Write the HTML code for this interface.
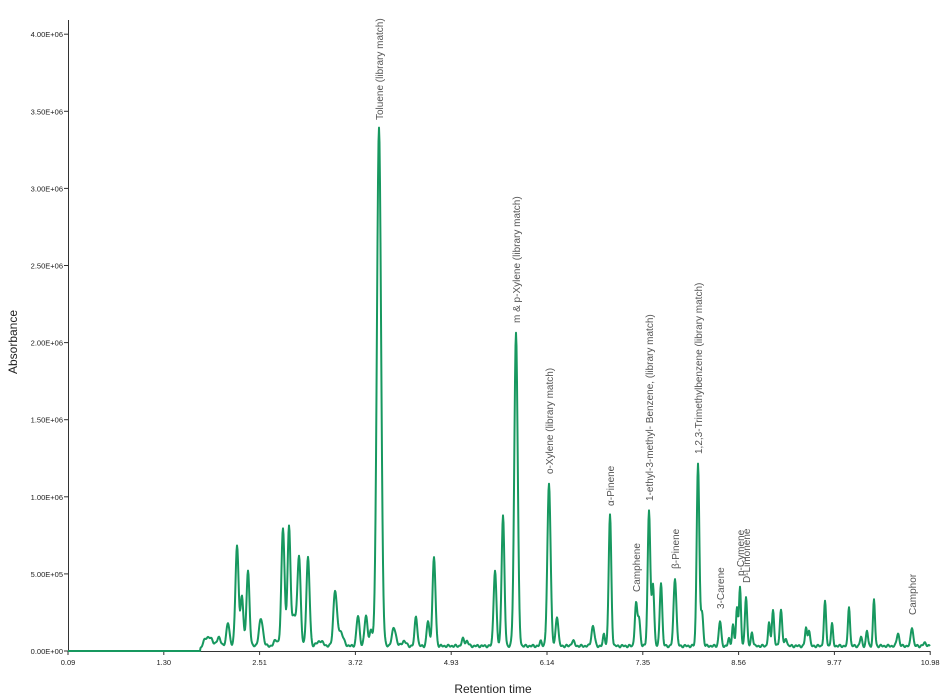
<!DOCTYPE html><html><head><meta charset="utf-8"><style>body{margin:0;background:#fff}svg{display:block;font-family:"Liberation Sans",sans-serif}</style></head><body>
<svg id="s" width="950" height="700" xmlns="http://www.w3.org/2000/svg">
<g stroke="#333" stroke-width="1" fill="none"><path d="M68.5 20V651.5H930"/></g>
<g id="ax" font-size="7.5" fill="#222"></g>
<text x="493" y="693" font-size="12" text-anchor="middle" fill="#222">Retention time</text>
<text transform="translate(17,342) rotate(-90)" font-size="12" text-anchor="middle" fill="#222">Absorbance</text>
<path id="c" fill="none" stroke="#17985f" stroke-width="2" stroke-linejoin="round"/>
<g id="lb" font-size="10" fill="#555"></g>
</svg>
<script>
var ax=document.getElementById('ax'),h='';
var yl=['0.00E+00','5.00E+05','1.00E+06','1.50E+06','2.00E+06','2.50E+06','3.00E+06','3.50E+06','4.00E+06'];
for(var i=0;i<9;i++){var y=651-i*77.1;h+='<line x1="64" x2="68" y1="'+y+'" y2="'+y+'" stroke="#333"/><text x="63" y="'+(y+3)+'" text-anchor="end">'+yl[i]+'</text>';}
var xl=['0.09','1.30','2.51','3.72','4.93','6.14','7.35','8.56','9.77','10.98'];
for(var i=0;i<10;i++){var x=68+i*95.8;h+='<line x1="'+x+'" x2="'+x+'" y1="651" y2="655" stroke="#333"/><text x="'+x+'" y="665" text-anchor="middle">'+xl[i]+'</text>';}
ax.innerHTML=h;
var P=[[205,8,3],[210,8,3],[219,8,2],[228,24,1.5],[237,100,1.6],[242,50,1.4],[248,75,1.5],[261,27,2],[276,6,2],[283,118,1.6],[289,118,1.5],[294,30,2],[299,90,1.6],[308,88,1.6],[320,5,3],[335,52,1.7],[340,15,3],[358,30,1.5],[366,30,1.5],[371,15,1.5],[379,518,2.1],[394,18,2],[404,5,2],[416,30,1.3],[428,25,1.3],[434,88,1.5],[463,7,1.3],[467,5,1.3],[495,76,1.4],[503,130,1.4],[516,314,1.7],[541,5,1],[549,163,1.6],[557,30,1.3],[573,5,1.5],[593,20,1.5],[604,12,1],[610,131,1.3],[636,42,1.2],[639,28,1.2],[649,136,1.3],[653,62,1.2],[661,64,1.2],[675,68,1.4],[698,183,1.3],[702,34,1.2],[720,25,1.2],[729,7,1],[733,21,1],[737,38,1],[740,58,1],[746,50,1.1],[752,14,1],[769,23,1],[773,36,1.1],[781,36,1.2],[786,8,1],[806,18,1],[809,16,1],[825,44,1.1],[832,22,1],[849,40,1],[861,9,1],[867,15,1],[874,46,1],[898,13,1.2],[912,19,1.2],[925,3,1.5]];
function f(x){if(x<=200)return 651;var y=Math.min(1,(x-200)/15)*5+0.8*Math.sin(x*1.7)+0.6*Math.sin(x*0.9);
for(var i=0;i<P.length;i++){var d=(x-P[i][0])/P[i][2];if(Math.abs(d)<8)y+=P[i][1]*Math.exp(-d*d/2);}return 651-Math.max(0,y);}
var d='M68 651';for(var x=68;x<=930;x+=0.5)d+='L'+x+' '+f(x).toFixed(1);
document.getElementById('c').setAttribute('d',d);
var L=[[383,120,'Toluene (library match)'],[520,323,'m & p-Xylene (library match)'],[553,474,'o-Xylene (library match)'],[614,506,'α-Pinene'],[640,592,'Camphene'],[653,501,'1-ethyl-3-methyl- Benzene, (library match)'],[679,569,'β-Pinene'],[702,454,'1,2,3-Trimethylbenzene (library match)'],[724,609,'3-Carene'],[744,576,'p-Cymene'],[750,583,'D-Limonene'],[916,615,'Camphor']];
var g='';L.forEach(function(l){g+='<text transform="translate('+l[0]+','+l[1]+') rotate(-90)">'+l[2].replace('&','&amp;')+'</text>';});
document.getElementById('lb').innerHTML=g;
</script></body></html>
